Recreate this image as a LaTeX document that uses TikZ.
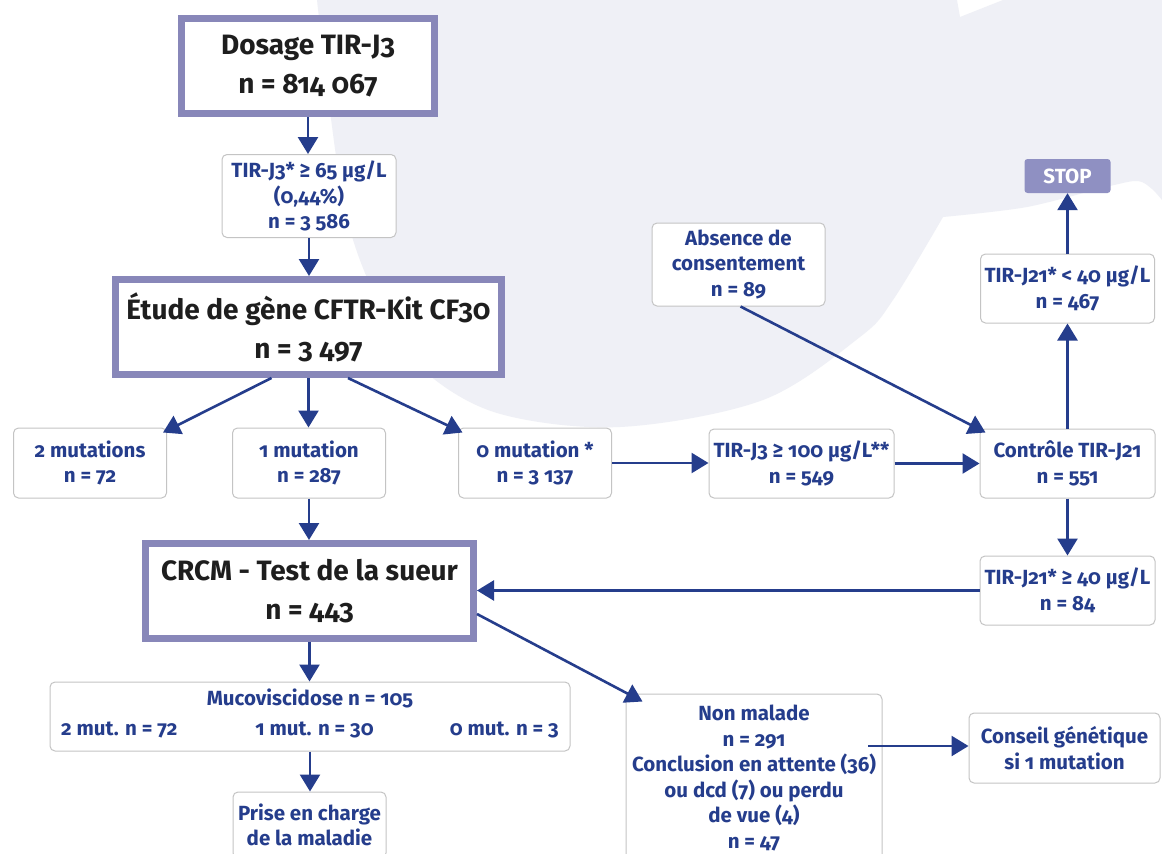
\documentclass[tikz,border=0pt]{standalone}
\usepackage{fontspec}
\setmainfont{Fira Sans}[Numbers=OldStyle]
\usetikzlibrary{arrows.meta,calc}
\definecolor{lav}{HTML}{8887B9}
\definecolor{stopfill}{HTML}{8F90C2}
\definecolor{navy}{HTML}{253D8C}
\definecolor{bgl}{HTML}{EFF0F6}
\definecolor{boxgrey}{HTML}{C4C4C4}
\definecolor{darktext}{HTML}{1E1E1E}
\newcommand{\bigfnt}{\fontsize{28}{39}\selectfont\bfseries}
\newcommand{\smallfnt}{\fontsize{20.5}{25.5}\selectfont\bfseries}
\tikzset{
  bigbox/.style={draw=lav, line width=7pt, fill=white, text=darktext, font=\bigfnt, align=center, inner sep=0pt},
  smallbox/.style={draw=boxgrey, line width=1pt, rounded corners=5pt, fill=white, text=navy, font=\smallfnt, align=center, inner sep=0pt},
  stopbox/.style={fill=stopfill, rounded corners=3pt, text=white, font=\smallfnt, inner sep=0pt},
  txt/.style={text=navy, font=\smallfnt, inner sep=0pt},
  arr/.style={draw=navy, line width=2.6pt, -{Triangle[length=17pt,width=20pt]}}
}
\begin{document}
\begin{tikzpicture}[x=1pt,y=-1pt]
\useasboundingbox (0,0) rectangle (1162,854);
\fill[white] (0,0) rectangle (1162,854);
% background decoration
\fill[bgl] plot[smooth, tension=0.55] coordinates {(317,0) (343,200) (377,300) (420,367) (497,413) (620,427) (763,400) (860,337) (893,300) (943,217)}
  -- plot[smooth, tension=0.5] coordinates {(943,217) (1027,207) (1110,186) (1138,181) (1152,189) (1162,200)}
  -- (1162,0) -- (1003,0) -- (960,17) -- (957,0) -- cycle;

% nodes
\node[bigbox, minimum width=253pt, minimum height=95pt] (dosage) at (308,66) {Dosage TIR-J3\\n = 814 067};
\node[smallbox, minimum width=174pt, minimum height=83pt] (tir65) at (309,196) {TIR-J3* ≥ 65 µg/L\\(0,44\%)\\n = 3 586};
\node[bigbox, minimum width=386pt, minimum height=95pt] (etude) at (308.5,327) {Étude de gène CFTR-Kit CF30\\n = 3 497};
\node[smallbox, minimum width=153pt, minimum height=70pt] (mut2) at (90,463) {2 mutations\\n = 72};
\node[smallbox, minimum width=153pt, minimum height=70pt] (mut1) at (309,463) {1 mutation\\n = 287};
\node[smallbox, minimum width=153pt, minimum height=70pt] (mut0) at (535,463) {0 mutation *\\n = 3 137};
\node[smallbox, minimum width=185pt, minimum height=69pt] (tir100) at (801.5,463.5) {TIR-J3 ≥ 100 µg/L**\\n = 549};
\node[smallbox, minimum width=175pt, minimum height=69pt] (controle) at (1067.5,463.5) {Contrôle TIR-J21\\n = 551};
\node[smallbox, minimum width=173pt, minimum height=83pt] (absence) at (738.5,264.5) {Absence de\\consentement\\n = 89};
\node[smallbox, minimum width=174pt, minimum height=69pt] (tir40lt) at (1067.5,288.5) {TIR-J21* < 40 µg/L\\n = 467};
\node[stopbox, minimum width=86pt, minimum height=34pt] (stop) at (1067.5,176) {STOP};
\node[smallbox, minimum width=175pt, minimum height=69pt] (tir40ge) at (1067.5,590.5) {TIR-J21* ≥ 40 µg/L\\n = 84};
\node[bigbox, minimum width=328pt, minimum height=95pt] (crcm) at (309.5,591) {CRCM - Test de la sueur\\n = 443};
\node[smallbox, minimum width=520pt, minimum height=69pt] (muco) at (310,716.5) {};
\node[txt] (mucot) at (310,698) {Mucoviscidose n = 105};
\node[txt, anchor=west] (muc2) at (61,730) {2 mut. n = 72};
\node[txt] (muc1) at (314.5,730) {1 mut. n = 30};
\node[txt, anchor=east] (muc0) at (559,730) {0 mut. n = 3};
\node[smallbox, minimum width=153pt, minimum height=66pt] (prise) at (309.5,825) {Prise en charge\\de la maladie};
\node[smallbox, minimum width=256pt, minimum height=168pt] (nonmal) at (754,778) {Non malade\\n = 291\\Conclusion en attente (36)\\ou dcd (7) ou perdu\\de vue (4)\\n = 47};
\node[smallbox, minimum width=191pt, minimum height=70pt] (conseil) at (1064.5,748) {Conseil génétique\\si 1 mutation};
\coordinate (nmout) at (868,746);

% connectors
\draw[arr] (dosage.south) -- (dosage.south |- tir65.north);
\draw[arr] (tir65.south) -- (tir65.south |- etude.north);
\draw[arr] ([xshift=-37pt]etude.south) -- ([xshift=-4pt,yshift=-5pt]mut2.north east);
\draw[arr] (etude.south) -- (etude.south |- mut1.north);
\draw[arr] ([xshift=39.5pt]etude.south) -- ([xshift=4.5pt,yshift=-5pt]mut0.north west);
\draw[arr] (mut0.east) -- (mut0.east -| tir100.west);
\draw[arr] (tir100.east) -- (tir100.east -| controle.west);
\draw[arr] ([xshift=2pt]absence.south) -- ([xshift=6pt,yshift=-4pt]controle.north west);
\draw[arr] (controle.north) -- (tir40lt.south);
\draw[arr] (tir40lt.north) -- (stop.south);
\draw[arr] (controle.south) -- (tir40ge.north);
\draw[arr] (tir40ge.west) -- (tir40ge.west -| crcm.east);
\draw[arr] (mut1.south) -- (mut1.south |- crcm.north);
\draw[arr] (crcm.south) -- (crcm.south |- muco.north);
\draw[arr] (muco.south) -- (muco.south |- prise.north);
\draw[arr] ([yshift=-23pt]crcm.east) -- ([xshift=17pt,yshift=-8pt]nonmal.north west);
\draw[arr] (nmout) -- (nmout -| conseil.west);
\end{tikzpicture}
\end{document}
